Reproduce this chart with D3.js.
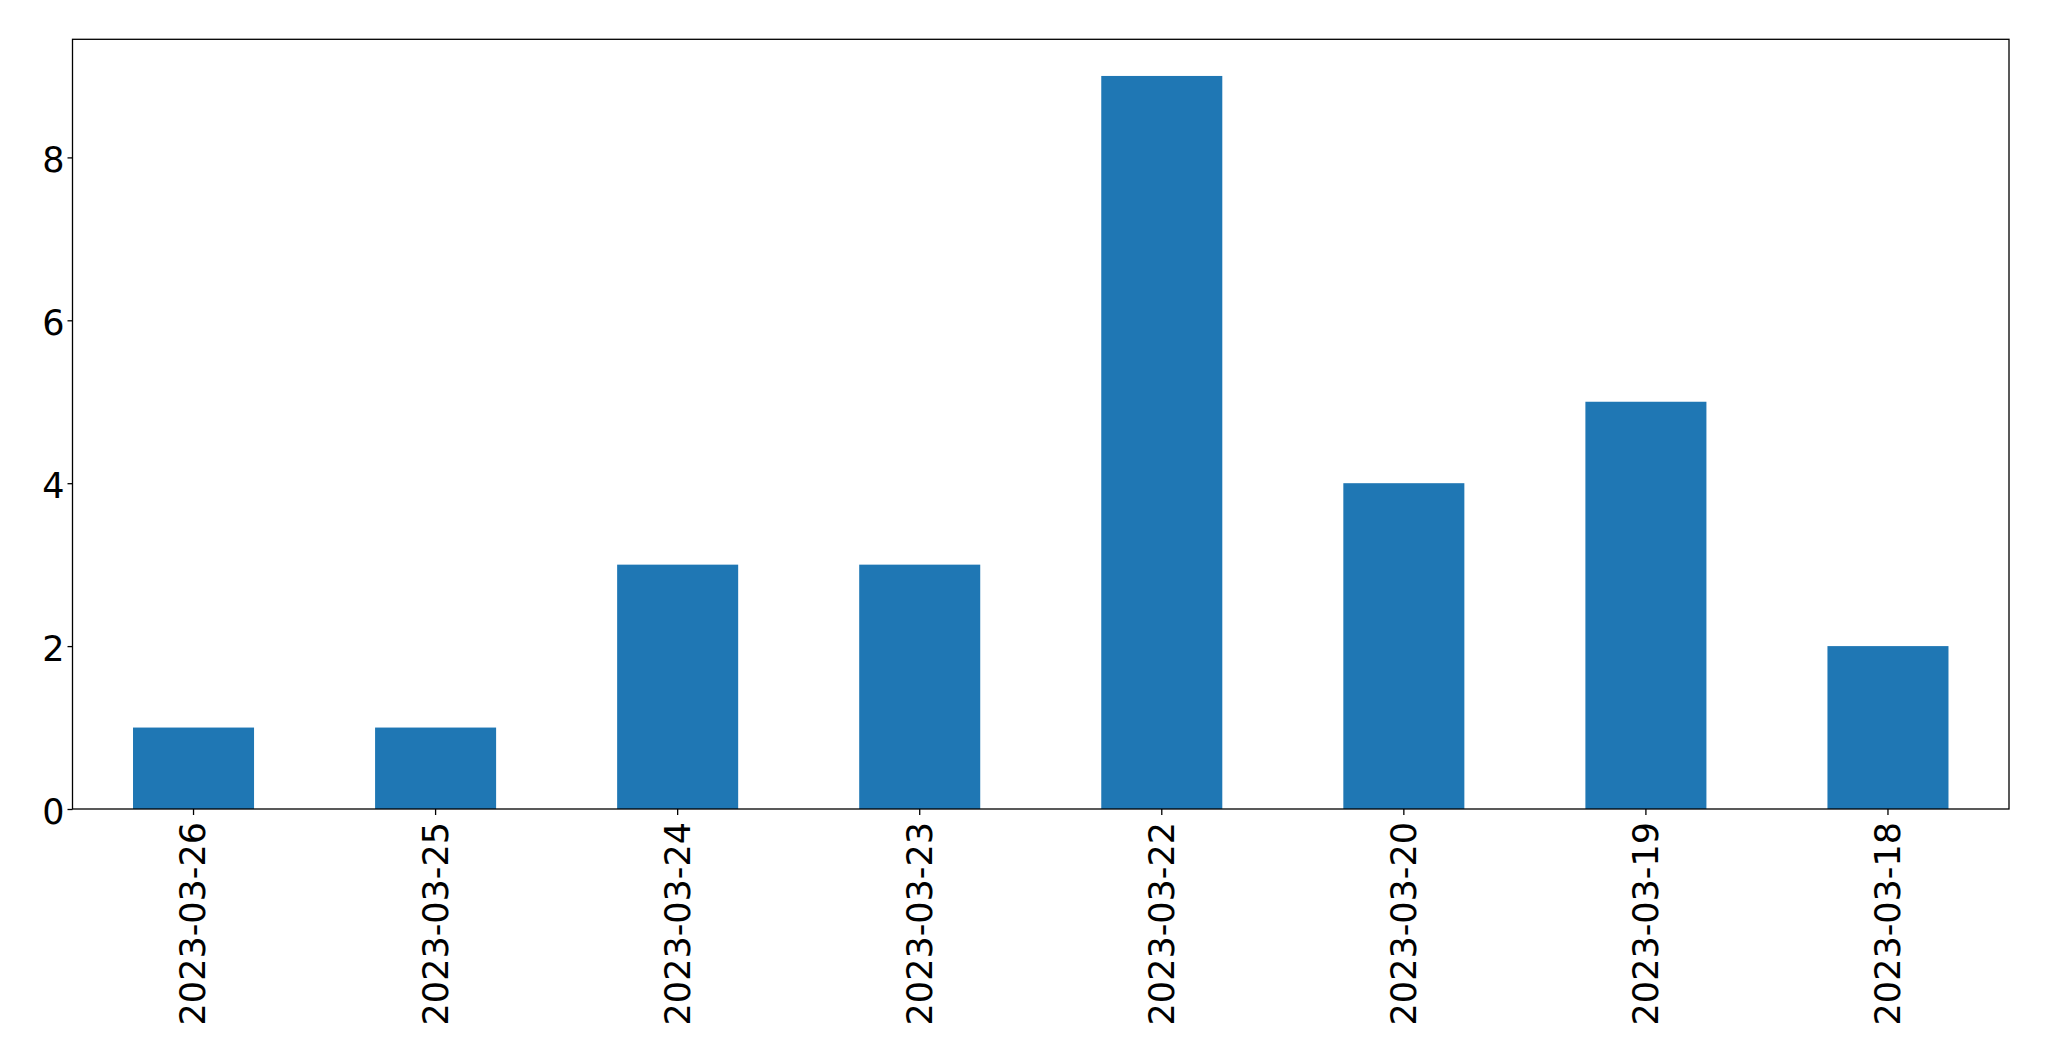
<!DOCTYPE html>
<html>
<head>
<meta charset="utf-8">
<script src="https://cdn.jsdelivr.net/npm/d3@7"></script>
<style>
body { margin: 0; background: #fff; }
svg { display: block; }
text { font-family: "DejaVu Sans", sans-serif; }
</style>
</head>
<body>
<svg id="chart" width="2049" height="1061"></svg>
<script>
const categories = ["2023-03-26", "2023-03-25", "2023-03-24", "2023-03-23", "2023-03-22", "2023-03-20", "2023-03-19", "2023-03-18"];
const values = [1, 1, 3, 3, 9, 4, 5, 2];
const yTicks = [0, 2, 4, 6, 8];

const svg = d3.select("#chart");
const mLeft = 72.5, mRight = 2009, mTop = 39.3, mBottom = 809;

const x = d3.scaleBand().domain(categories).range([mLeft, mRight]).paddingInner(0.5).paddingOuter(0.25);
const y = d3.scaleLinear().domain([0, d3.max(values) * 1.05]).range([mBottom, mTop]);

svg.append("g").selectAll("rect").data(values).join("rect")
  .attr("x", (d, i) => x(categories[i]))
  .attr("width", x.bandwidth())
  .attr("y", d => y(d))
  .attr("height", d => y(0) - y(d))
  .attr("fill", "#1f77b4");

const xAxis = svg.append("g").attr("transform", `translate(0,${mBottom})`)
  .call(d3.axisBottom(x).tickSize(6).tickPadding(9));
xAxis.select(".domain").remove();
xAxis.selectAll(".tick line").attr("stroke", "#000").attr("stroke-width", 1.3);
xAxis.selectAll(".tick text")
  .attr("font-size", 35).attr("fill", "#000")
  .attr("transform", "rotate(-90)")
  .attr("text-anchor", "end")
  .attr("x", -13).attr("y", 0).attr("dy", "0.34em");

const yAxis = svg.append("g").attr("transform", `translate(${mLeft},0)`)
  .call(d3.axisLeft(y).tickValues(yTicks).tickSize(5).tickPadding(3));
yAxis.select(".domain").remove();
yAxis.selectAll(".tick line").attr("stroke", "#000").attr("stroke-width", 1.3);
yAxis.selectAll(".tick text").attr("font-size", 35).attr("fill", "#000").attr("dy", "0.4em");

svg.append("rect").attr("x", mLeft).attr("y", mTop).attr("width", mRight - mLeft).attr("height", mBottom - mTop)
  .attr("fill", "none").attr("stroke", "#000").attr("stroke-width", 1.3);
</script>
</body>
</html>
